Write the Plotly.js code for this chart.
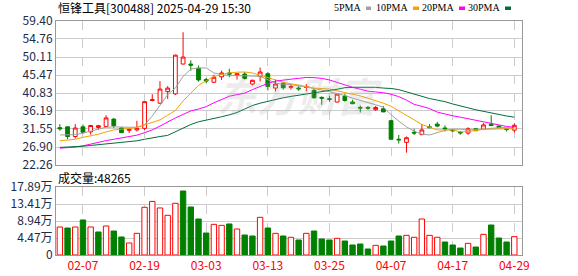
<!DOCTYPE html>
<html>
<head>
<meta charset="utf-8">
<script src="https://cdn.plot.ly/plotly-3.0.1.min.js"></script>
<style>html,body{margin:0;padding:0;background:#fff;}#chart{width:578px;height:276px;}</style>
</head>
<body>
<div id="chart"></div>
<script>
const dates = ["01-27","02-05","02-06","02-07","02-10","02-11","02-12","02-13","02-14",
"02-17","02-18","02-19","02-20","02-21","02-24","02-25","02-26","02-27","02-28",
"03-03","03-04","03-05","03-06","03-07","03-10","03-11","03-12","03-13","03-14",
"03-17","03-18","03-19","03-20","03-21","03-24","03-25","03-26","03-27","03-28",
"03-31","04-01","04-02","04-03","04-07","04-08","04-09","04-10","04-11",
"04-14","04-15","04-16","04-17","04-18","04-21","04-22","04-23","04-24","04-25",
"04-28","04-29"];
const open  = [31.9,32.1,29.6,32.1,30.8,31.95,32.2,34.1,31.8,31.2,31.3,31.7,38.9,38.2,41.2,40.6,48.3,48.3,47.2,44.3,
43.6,45.0,46.0,45.4,45.7,43.15,45.1,45.8,42.1,43.4,42.3,42.1,42.25,41.5,39.7,39.35,38.5,40.0,38.5,37.1,
37.1,36.5,36.75,33.7,28.9,28.1,30.7,30.1,32.1,32.8,31.8,31.3,30.7,30.5,31.6,31.5,32.8,32.3,31.6,31.25];
const high  = [32.8,32.2,32.8,32.7,32.6,32.6,35.1,34.35,32.0,31.8,33.65,38.6,40.5,43.9,42.6,50.7,56.5,49.25,47.9,44.7,
45.55,46.6,47.1,45.9,46.25,44.3,47.4,46.2,44.3,43.5,43.15,42.7,43.15,41.9,39.95,40.0,40.6,40.6,39.1,37.6,
37.5,37.5,37.45,33.9,30.0,29.6,31.6,32.8,32.8,33.4,32.5,31.5,31.05,32.0,31.65,33.05,35.1,32.4,31.7,33.05];
const low   = [31.1,28.9,29.1,30.3,30.1,31.3,32.1,31.8,30.55,30.5,30.9,31.3,38.7,38.0,39.3,40.3,48.2,46.6,43.8,43.4,
43.4,44.2,44.9,44.3,44.3,42.8,43.8,41.5,41.25,41.7,41.7,41.4,41.25,39.4,37.8,38.6,38.4,38.6,38.0,35.8,
36.5,36.2,35.9,28.9,27.8,25.45,30.0,29.95,31.76,32.0,30.9,30.8,30.1,30.05,31.05,31.45,32.35,31.8,30.9,30.6];
const close = [31.6,29.6,31.8,30.7,32.45,32.4,34.4,32.4,30.6,31.5,31.7,38.6,39.1,41.85,42.1,50.6,50.1,48.0,44.2,43.9,
44.9,46.0,45.7,45.8,44.6,44.1,46.25,42.5,43.15,42.2,42.5,41.9,42.5,39.6,39.5,39.2,40.55,38.9,38.05,36.95,
36.9,37.1,35.95,28.9,28.75,29.3,30.5,31.3,31.9,32.3,31.6,31.1,30.55,31.6,31.1,32.6,32.45,31.9,31.4,32.5];
const prevClose = 31.2;
const volume = [73700,71000,73700,92100,73700,60500,76300,63100,47400,31600,57000,125500,141000,123700,104400,136000,168400,126300,94700,57900,
80700,78000,81600,68400,52600,50000,99100,71000,57000,50000,46600,39500,57000,63100,42100,39500,43800,36800,26300,28900,
15800,25400,23700,36800,50000,51700,46600,94700,51700,46600,34200,26300,18400,30700,21000,54400,78900,44700,34200,48265];
const ma5  = [30.0,30.0,30.1,30.5,31.0,31.6,32.0,32.1,32.0,32.0,32.0,32.6,34.9,37.8,40.4,42.1,45.1,47.0,47.3,47.3,
46.0,45.6,45.3,45.3,45.3,45.2,45.1,44.2,43.4,43.1,43.0,42.7,42.4,42.0,41.6,41.2,40.6,40.2,39.5,39.0,
38.5,37.8,37.2,35.2,33.6,32.1,31.0,30.2,30.0,30.7,31.2,31.5,31.5,31.3,31.3,31.4,31.7,31.9,31.9,31.7];
const ma10 = [28.5,28.7,28.9,29.4,29.8,30.2,30.8,31.3,31.5,31.7,31.9,32.6,33.2,33.9,35.1,36.3,38.8,40.8,42.8,44.0,
45.1,45.6,46.0,46.2,46.25,46.0,45.4,44.7,44.1,43.6,43.2,42.9,42.5,42.1,42.0,41.85,41.4,40.9,40.5,40.1,
39.5,38.9,38.2,37.4,36.3,35.1,33.9,32.7,31.9,31.3,31.3,31.3,30.8,30.9,31.2,31.5,31.5,31.6,31.6,31.6];
const ma20 = [26.6,26.7,26.9,27.2,27.7,28.1,28.55,28.9,29.2,29.5,29.95,30.6,31.3,32.3,33.4,34.4,35.3,36.2,36.7,37.3,
38.3,39.1,40.0,40.4,40.8,41.7,42.6,43.3,43.9,44.2,44.4,44.6,44.85,44.8,44.6,44.2,43.5,42.8,42.3,41.8,
41.3,41.1,40.9,40.5,39.9,39.0,37.9,37.4,36.8,35.9,35.4,34.95,34.6,34.2,33.8,33.3,32.9,32.5,32.2,32.0];
const ma30 = [26.8,26.85,26.9,27.1,27.3,27.5,27.7,27.9,28.1,28.3,28.5,28.9,29.3,29.6,29.9,30.8,31.9,32.7,33.4,33.8,
34.3,34.7,35.2,35.8,36.7,37.6,38.2,38.7,39.2,39.6,39.95,40.3,40.6,40.9,41.2,41.5,41.8,42.2,42.3,42.3,
42.3,42.3,42.1,42.0,41.7,41.1,40.4,39.9,39.4,39.0,38.6,38.0,37.6,37.0,36.5,36.1,35.6,35.2,34.9,34.6];

const priceTicks = [22.26,26.90,31.55,36.19,40.83,45.47,50.11,54.76,59.40];
const volTicks = [0,44700,89400,134100,178900];
const volTickText = ["0","4.47万","8.94万","13.41万","17.89万"];
const xTickDates = ["02-07","02-19","03-03","03-13","03-25","04-07","04-17","04-29"];
const maNames = ["5PMA","10PMA","20PMA","30PMA"];
const maColors = ["#a0a0a0","#f5a300","#ff00ff","#006f3a"];
const titleText = "恒锋工具[300488] 2025-04-29 15:30";

const RED = "#ff0000", GREEN = "#008000";
const volUp = close.map((c,i)=> c >= (i ? close[i-1] : prevClose));

const traces = [];
const maData = [ma5, ma10, ma20, ma30];
maData.forEach((arr,k)=>{
  traces.push({type:"scatter",mode:"lines",x:dates,y:arr,xaxis:"x",yaxis:"y",
    line:{color:maColors[k],width:1},hoverinfo:"skip"});
});
traces.push({
  type:"candlestick", x:dates, open:open, high:high, low:low, close:close,
  xaxis:"x", yaxis:"y",
  increasing:{line:{color:RED,width:1},fillcolor:"#ffffff"},
  decreasing:{line:{color:GREEN,width:1},fillcolor:GREEN},
  whiskerwidth:0
});
traces.push({
  type:"bar", x:dates, y:volume, xaxis:"x2", yaxis:"y2",
  marker:{color:volUp.map(u=>u?"#ffffff":GREEN), line:{color:volUp.map(u=>u?RED:GREEN), width:1}}
});

const px = v => (v-56)/466;
const py = v => (255-v)/234;
const baseFont = "Noto Sans CJK SC, Liberation Sans, sans-serif";

const annotations = [
  {text:titleText, xref:"paper", yref:"paper", x:px(56), y:py(8), xanchor:"left", yanchor:"middle",
   showarrow:false, font:{size:12,color:"#000",family:baseFont}},
  {text:"成交量:"+volume[volume.length-1], xref:"paper", yref:"paper", x:px(56), y:py(177.5), xanchor:"left", yanchor:"middle",
   showarrow:false, font:{size:12,color:"#000",family:baseFont}},
  {text:"<i><b>东方财富</b></i>", xref:"paper", yref:"paper", x:px(300), y:py(95), xanchor:"center", yanchor:"middle",
   showarrow:false, font:{size:40,color:"rgba(170,170,170,0.22)",family:baseFont}}
];
const legendEnds = [363,410,456,502];
const markerX = [[366,371],[413,419],[459,465],[505,511]];
const shapes = [];
maNames.forEach((n,k)=>{
  annotations.push({text:n, xref:"paper", yref:"paper", x:px(legendEnds[k]), y:py(8), xanchor:"right", yanchor:"middle",
    showarrow:false, font:{size:10,color:"#000",family:"Liberation Serif, serif"}});
  shapes.push({type:"rect", xref:"paper", yref:"paper", x0:px(markerX[k][0]), x1:px(markerX[k][1]),
    y0:py(10), y1:py(6.5), fillcolor:maColors[k], line:{width:0}});
});

const axisCommon = {showline:true, mirror:true, linecolor:"#999", linewidth:1, zeroline:false, ticks:"", fixedrange:true};
const layout = {
  width:578, height:276, margin:{l:56,r:56,t:21,b:21},
  paper_bgcolor:"#fff", plot_bgcolor:"#fff", showlegend:false,
  font:{family:baseFont,size:12,color:"#1c2b48"},
  bargap:0.3,
  xaxis:Object.assign({}, axisCommon, {type:"category", range:[-0.5,60], anchor:"y", domain:[0,1],
    tickvals:xTickDates, showticklabels:false, showgrid:true, gridcolor:"#cccccc", griddash:"dash",
    rangeslider:{visible:false}}),
  yaxis:Object.assign({}, axisCommon, {domain:[0.3846,1], range:[22.26,59.40], tickvals:priceTicks,
    ticktext:priceTicks.map(v=>v.toFixed(2)), showgrid:true, gridcolor:"#cccccc",
    tickfont:{size:12,color:"#1c2b48"}}),
  xaxis2:Object.assign({}, axisCommon, {type:"category", range:[-0.5,60], anchor:"y2", domain:[0,1],
    tickvals:xTickDates, ticktext:xTickDates, showgrid:true, gridcolor:"#cccccc", griddash:"dash",
    tickfont:{size:12,color:"#ff0000"}}),
  yaxis2:Object.assign({}, axisCommon, {domain:[0,0.2906], range:[0,178900], tickvals:volTicks, ticktext:volTickText,
    showgrid:true, gridcolor:"#cccccc", tickfont:{size:12,color:"#1c2b48"}}),
  annotations:annotations, shapes:shapes
};
Plotly.newPlot("chart", traces, layout, {displayModeBar:false, staticPlot:true});
</script>
</body>
</html>
